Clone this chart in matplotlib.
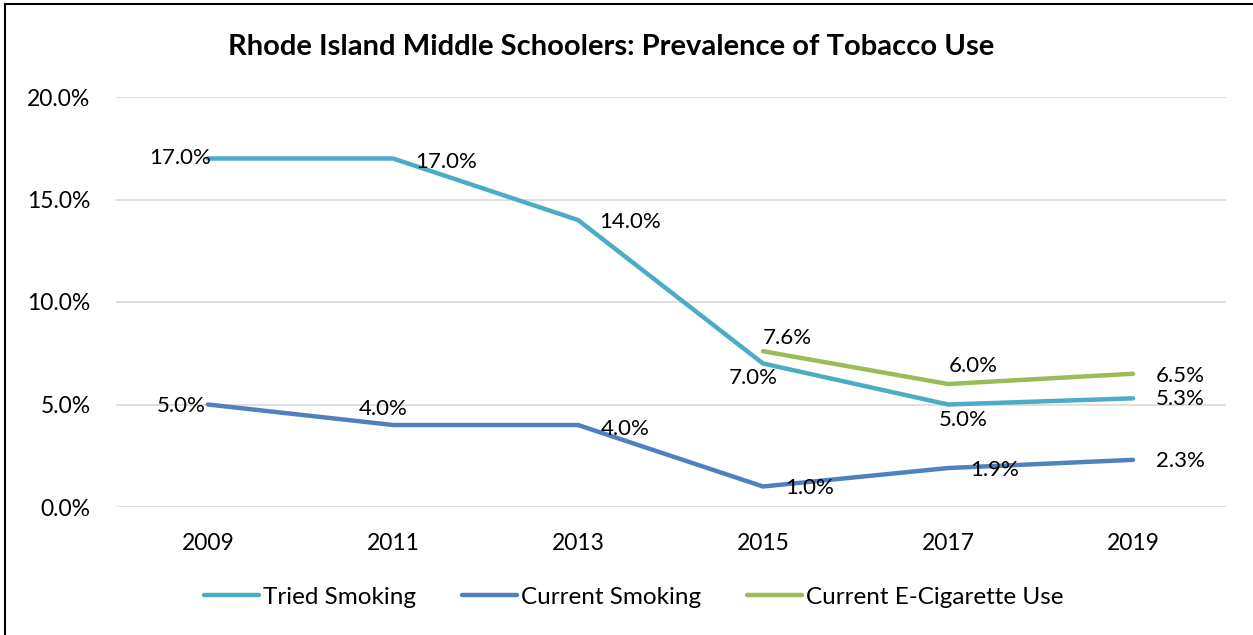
import matplotlib
matplotlib.use("Agg")
import matplotlib.pyplot as plt
from matplotlib.ticker import FuncFormatter

plt.rcParams['font.family'] = ['Lato', 'DejaVu Sans']

years = ["2009", "2011", "2013", "2015", "2017", "2019"]
tried = [17.0, 17.0, 14.0, 7.0, 5.0, 5.3]
current = [5.0, 4.0, 4.0, 1.0, 1.9, 2.3]
ecig_years = ["2015", "2017", "2019"]
ecig = [7.6, 6.0, 6.5]

c_tried = "#4BACC6"
c_cur = "#4F81BD"
c_ecig = "#9BBB59"

W, H = 1253, 635
fig = plt.figure(figsize=(W / 100, H / 100), dpi=100)
ax = fig.add_axes([115.5 / W, 1 - 507 / H, 1110 / W, 410 / H])

x = list(range(len(years)))
xe = [years.index(y) for y in ecig_years]
lw = 3.2
ax.plot(x, tried, color=c_tried, lw=lw, solid_capstyle='round', label="Tried Smoking", zorder=3)
ax.plot(x, current, color=c_cur, lw=lw, solid_capstyle='round', label="Current Smoking", zorder=3)
ax.plot(xe, ecig, color=c_ecig, lw=lw, solid_capstyle='round', label="Current E-Cigarette Use", zorder=3)

ax.set_xlim(-0.5, len(years) - 0.5)
ax.set_ylim(0, 20)
ax.set_yticks([0, 5, 10, 15, 20])
ax.yaxis.set_major_formatter(FuncFormatter(lambda v, p: f"{v:.1f}%"))
ax.set_xticks(x)
ax.set_xticklabels(years)
ax.tick_params(axis='both', length=0, labelsize=16.5, colors="#000000")
ax.tick_params(axis='y', pad=18)
ax.tick_params(axis='x', pad=19)
ax.grid(axis='y', color="#D9D9D9", lw=1.2)
ax.set_axisbelow(True)
for s in ax.spines.values():
    s.set_visible(False)

fs = 16
# label placement in pixels: (dx, dy, ha)
tried_pos = [(3, 0, 'right'), (53, -3, 'center'), (52, -2, 'center'),
             (-10, -15, 'center'), (15, -15, 'center'), (47, -1, 'center')]
cur_pos = [(-2, -1, 'right'), (-10, 16, 'center'), (47, -4, 'center'),
           (47, -1, 'center'), (47, -2, 'center'), (47, -1, 'center')]
ecig_pos = [(24, 13, 'center'), (25, 18, 'center'), (47, -2, 'center')]

def label(xs, ys, pos):
    for xi, yi, (dx, dy, ha) in zip(xs, ys, pos):
        ax.annotate(f"{yi:.1f}%", (xi, yi), xytext=(dx, dy), textcoords='offset pixels',
                    ha=ha, va='center', fontsize=fs, zorder=4)

label(x, tried, tried_pos)
label(x, current, cur_pos)
label(xe, ecig, ecig_pos)

fig.text(611 / W, 1 - 47 / H, "Rhode Island Middle Schoolers: Prevalence of Tobacco Use",
         ha='center', va='center', fontsize=21, fontweight='bold')

leg = fig.legend(loc='center', bbox_to_anchor=(634 / W, 1 - 597 / H), ncol=3, frameon=False,
                 fontsize=17.5, handlelength=2.26, columnspacing=1.9, handletextpad=0.16)

# outer frame (left and top visible)
fig.add_artist(plt.Line2D([5 / W, 5 / W], [0, 1 - 4 / H], transform=fig.transFigure, color='black', lw=1.5))
fig.add_artist(plt.Line2D([5 / W, 1], [1 - 4 / H, 1 - 4 / H], transform=fig.transFigure, color='black', lw=1.5))

fig.savefig("out.png", dpi=100)
